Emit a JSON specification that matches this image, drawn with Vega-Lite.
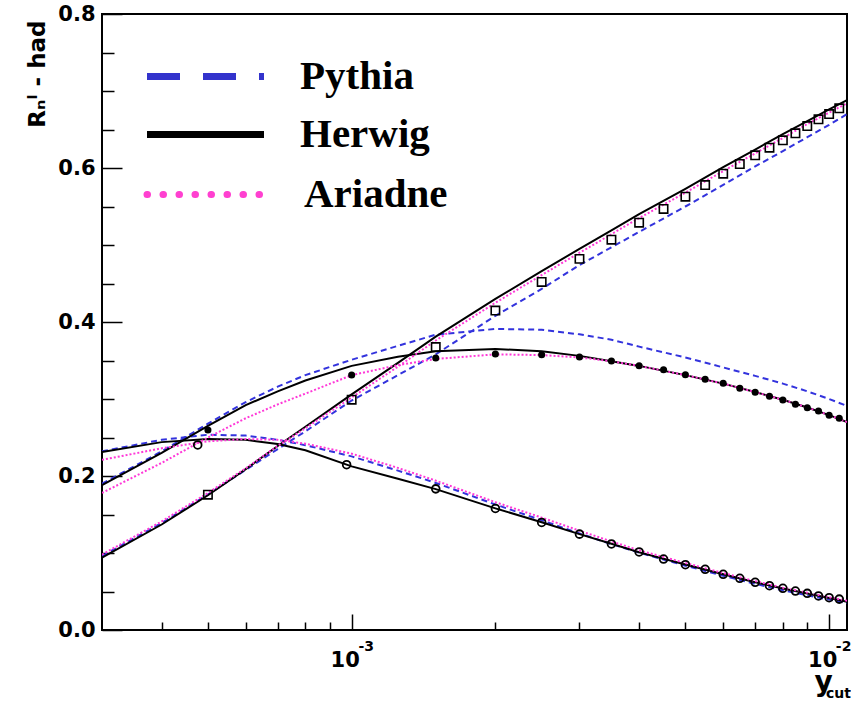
{
  "$schema": "https://vega.github.io/schema/vega-lite/v6.json",
  "width": 745,
  "height": 616,
  "autosize": {"type": "none"},
  "padding": {"left": 102, "top": 14, "right": 4, "bottom": 72},
  "background": "white",
  "title": {"text": "g", "anchor": "start", "frame": "group", "dx": 588, "dy": 11, "offset": 14, "baseline": "alphabetic", "font": "Liberation Serif", "fontWeight": "bold", "fontSize": 56, "color": "black"},
  "config": {
    "view": {"stroke": "black", "strokeWidth": 2},
    "axis": {"domain": false, "grid": false, "tickColor": "black", "tickWidth": 1.5, "labelColor": "black", "titleColor": "black"},
    "legend": {"orient": "none", "padding": 0, "symbolType": "M-1,0H18.5", "symbolSize": 144, "symbolStrokeWidth": 7, "symbolOpacity": 1,
      "labelFont": "Liberation Serif", "labelFontWeight": "bold", "labelFontSize": 41, "labelColor": "black", "labelOffset": 126.5, "labelLimit": 0}
  },
  "datasets": {
    "curves": [
      {"s":"R2","g":"Herwig","x":0.0003,"y":0.094},{"s":"R2","g":"Herwig","x":0.0004,"y":0.137},{"s":"R2","g":"Herwig","x":0.0005,"y":0.175},{"s":"R2","g":"Herwig","x":0.0006,"y":0.209},{"s":"R2","g":"Herwig","x":0.0007,"y":0.239},{"s":"R2","g":"Herwig","x":0.0008,"y":0.264},{"s":"R2","g":"Herwig","x":0.001,"y":0.306},{"s":"R2","g":"Herwig","x":0.00125,"y":0.347},{"s":"R2","g":"Herwig","x":0.0015,"y":0.381},{"s":"R2","g":"Herwig","x":0.002,"y":0.43},{"s":"R2","g":"Herwig","x":0.0025,"y":0.466},{"s":"R2","g":"Herwig","x":0.003,"y":0.495},{"s":"R2","g":"Herwig","x":0.0035,"y":0.519},{"s":"R2","g":"Herwig","x":0.004,"y":0.54},{"s":"R2","g":"Herwig","x":0.005,"y":0.573},{"s":"R2","g":"Herwig","x":0.006,"y":0.601},{"s":"R2","g":"Herwig","x":0.007,"y":0.624},{"s":"R2","g":"Herwig","x":0.008,"y":0.644},{"s":"R2","g":"Herwig","x":0.009,"y":0.661},{"s":"R2","g":"Herwig","x":0.01,"y":0.676},{"s":"R2","g":"Herwig","x":0.0109,"y":0.688},
      {"s":"R2","g":"Ariadne","x":0.0003,"y":0.098},{"s":"R2","g":"Ariadne","x":0.0004,"y":0.141},{"s":"R2","g":"Ariadne","x":0.0005,"y":0.178},{"s":"R2","g":"Ariadne","x":0.0006,"y":0.21},{"s":"R2","g":"Ariadne","x":0.0007,"y":0.239},{"s":"R2","g":"Ariadne","x":0.0008,"y":0.262},{"s":"R2","g":"Ariadne","x":0.001,"y":0.302},{"s":"R2","g":"Ariadne","x":0.00125,"y":0.342},{"s":"R2","g":"Ariadne","x":0.0015,"y":0.376},{"s":"R2","g":"Ariadne","x":0.002,"y":0.425},{"s":"R2","g":"Ariadne","x":0.0025,"y":0.461},{"s":"R2","g":"Ariadne","x":0.003,"y":0.49},{"s":"R2","g":"Ariadne","x":0.0035,"y":0.514},{"s":"R2","g":"Ariadne","x":0.004,"y":0.535},{"s":"R2","g":"Ariadne","x":0.005,"y":0.568},{"s":"R2","g":"Ariadne","x":0.006,"y":0.596},{"s":"R2","g":"Ariadne","x":0.007,"y":0.619},{"s":"R2","g":"Ariadne","x":0.008,"y":0.639},{"s":"R2","g":"Ariadne","x":0.009,"y":0.657},{"s":"R2","g":"Ariadne","x":0.01,"y":0.672},{"s":"R2","g":"Ariadne","x":0.0109,"y":0.684},
      {"s":"R2","g":"Pythia","x":0.0003,"y":0.096},{"s":"R2","g":"Pythia","x":0.0004,"y":0.139},{"s":"R2","g":"Pythia","x":0.0005,"y":0.176},{"s":"R2","g":"Pythia","x":0.0006,"y":0.208},{"s":"R2","g":"Pythia","x":0.0007,"y":0.235},{"s":"R2","g":"Pythia","x":0.0008,"y":0.258},{"s":"R2","g":"Pythia","x":0.001,"y":0.298},{"s":"R2","g":"Pythia","x":0.00125,"y":0.331},{"s":"R2","g":"Pythia","x":0.0015,"y":0.358},{"s":"R2","g":"Pythia","x":0.002,"y":0.408},{"s":"R2","g":"Pythia","x":0.0025,"y":0.443},{"s":"R2","g":"Pythia","x":0.003,"y":0.474},{"s":"R2","g":"Pythia","x":0.0035,"y":0.497},{"s":"R2","g":"Pythia","x":0.004,"y":0.517},{"s":"R2","g":"Pythia","x":0.005,"y":0.55},{"s":"R2","g":"Pythia","x":0.006,"y":0.578},{"s":"R2","g":"Pythia","x":0.007,"y":0.602},{"s":"R2","g":"Pythia","x":0.008,"y":0.622},{"s":"R2","g":"Pythia","x":0.009,"y":0.64},{"s":"R2","g":"Pythia","x":0.01,"y":0.656},{"s":"R2","g":"Pythia","x":0.0109,"y":0.67},
      {"s":"R3","g":"Herwig","x":0.0003,"y":0.188},{"s":"R3","g":"Herwig","x":0.0004,"y":0.23},{"s":"R3","g":"Herwig","x":0.0005,"y":0.265},{"s":"R3","g":"Herwig","x":0.0006,"y":0.292},{"s":"R3","g":"Herwig","x":0.0007,"y":0.31},{"s":"R3","g":"Herwig","x":0.0008,"y":0.324},{"s":"R3","g":"Herwig","x":0.001,"y":0.343},{"s":"R3","g":"Herwig","x":0.00125,"y":0.355},{"s":"R3","g":"Herwig","x":0.0015,"y":0.362},{"s":"R3","g":"Herwig","x":0.002,"y":0.365},{"s":"R3","g":"Herwig","x":0.0025,"y":0.362},{"s":"R3","g":"Herwig","x":0.003,"y":0.356},{"s":"R3","g":"Herwig","x":0.0035,"y":0.349},{"s":"R3","g":"Herwig","x":0.004,"y":0.343},{"s":"R3","g":"Herwig","x":0.005,"y":0.331},{"s":"R3","g":"Herwig","x":0.006,"y":0.32},{"s":"R3","g":"Herwig","x":0.007,"y":0.309},{"s":"R3","g":"Herwig","x":0.008,"y":0.299},{"s":"R3","g":"Herwig","x":0.009,"y":0.289},{"s":"R3","g":"Herwig","x":0.01,"y":0.279},{"s":"R3","g":"Herwig","x":0.0109,"y":0.27},
      {"s":"R3","g":"Ariadne","x":0.0003,"y":0.178},{"s":"R3","g":"Ariadne","x":0.0004,"y":0.217},{"s":"R3","g":"Ariadne","x":0.0005,"y":0.25},{"s":"R3","g":"Ariadne","x":0.0006,"y":0.275},{"s":"R3","g":"Ariadne","x":0.0007,"y":0.293},{"s":"R3","g":"Ariadne","x":0.0008,"y":0.307},{"s":"R3","g":"Ariadne","x":0.001,"y":0.331},{"s":"R3","g":"Ariadne","x":0.00125,"y":0.344},{"s":"R3","g":"Ariadne","x":0.0015,"y":0.352},{"s":"R3","g":"Ariadne","x":0.002,"y":0.358},{"s":"R3","g":"Ariadne","x":0.0025,"y":0.357},{"s":"R3","g":"Ariadne","x":0.003,"y":0.354},{"s":"R3","g":"Ariadne","x":0.0035,"y":0.349},{"s":"R3","g":"Ariadne","x":0.004,"y":0.343},{"s":"R3","g":"Ariadne","x":0.005,"y":0.331},{"s":"R3","g":"Ariadne","x":0.006,"y":0.32},{"s":"R3","g":"Ariadne","x":0.007,"y":0.309},{"s":"R3","g":"Ariadne","x":0.008,"y":0.299},{"s":"R3","g":"Ariadne","x":0.009,"y":0.289},{"s":"R3","g":"Ariadne","x":0.01,"y":0.279},{"s":"R3","g":"Ariadne","x":0.0109,"y":0.27},
      {"s":"R3","g":"Pythia","x":0.0003,"y":0.19},{"s":"R3","g":"Pythia","x":0.0004,"y":0.232},{"s":"R3","g":"Pythia","x":0.0005,"y":0.268},{"s":"R3","g":"Pythia","x":0.0006,"y":0.296},{"s":"R3","g":"Pythia","x":0.0007,"y":0.316},{"s":"R3","g":"Pythia","x":0.0008,"y":0.331},{"s":"R3","g":"Pythia","x":0.001,"y":0.351},{"s":"R3","g":"Pythia","x":0.00125,"y":0.369},{"s":"R3","g":"Pythia","x":0.0015,"y":0.3835},{"s":"R3","g":"Pythia","x":0.002,"y":0.391},{"s":"R3","g":"Pythia","x":0.0025,"y":0.39},{"s":"R3","g":"Pythia","x":0.003,"y":0.384},{"s":"R3","g":"Pythia","x":0.0035,"y":0.377},{"s":"R3","g":"Pythia","x":0.004,"y":0.368},{"s":"R3","g":"Pythia","x":0.005,"y":0.354},{"s":"R3","g":"Pythia","x":0.006,"y":0.341},{"s":"R3","g":"Pythia","x":0.007,"y":0.33},{"s":"R3","g":"Pythia","x":0.008,"y":0.32},{"s":"R3","g":"Pythia","x":0.009,"y":0.31},{"s":"R3","g":"Pythia","x":0.01,"y":0.3},{"s":"R3","g":"Pythia","x":0.0109,"y":0.291},
      {"s":"R4","g":"Herwig","x":0.0003,"y":0.231},{"s":"R4","g":"Herwig","x":0.0004,"y":0.244},{"s":"R4","g":"Herwig","x":0.0005,"y":0.248},{"s":"R4","g":"Herwig","x":0.0006,"y":0.247},{"s":"R4","g":"Herwig","x":0.0007,"y":0.2415},{"s":"R4","g":"Herwig","x":0.0008,"y":0.2335},{"s":"R4","g":"Herwig","x":0.001,"y":0.2125},{"s":"R4","g":"Herwig","x":0.00125,"y":0.1965},{"s":"R4","g":"Herwig","x":0.0015,"y":0.183},{"s":"R4","g":"Herwig","x":0.002,"y":0.158},{"s":"R4","g":"Herwig","x":0.0025,"y":0.14},{"s":"R4","g":"Herwig","x":0.003,"y":0.1245},{"s":"R4","g":"Herwig","x":0.0035,"y":0.112},{"s":"R4","g":"Herwig","x":0.004,"y":0.101},{"s":"R4","g":"Herwig","x":0.005,"y":0.085},{"s":"R4","g":"Herwig","x":0.006,"y":0.0725},{"s":"R4","g":"Herwig","x":0.007,"y":0.062},{"s":"R4","g":"Herwig","x":0.008,"y":0.054},{"s":"R4","g":"Herwig","x":0.009,"y":0.0475},{"s":"R4","g":"Herwig","x":0.01,"y":0.0415},{"s":"R4","g":"Herwig","x":0.0109,"y":0.0365},
      {"s":"R4","g":"Pythia","x":0.0003,"y":0.232},{"s":"R4","g":"Pythia","x":0.0004,"y":0.247},{"s":"R4","g":"Pythia","x":0.0005,"y":0.2536},{"s":"R4","g":"Pythia","x":0.0006,"y":0.2525},{"s":"R4","g":"Pythia","x":0.0007,"y":0.247},{"s":"R4","g":"Pythia","x":0.0008,"y":0.24},{"s":"R4","g":"Pythia","x":0.001,"y":0.2255},{"s":"R4","g":"Pythia","x":0.00125,"y":0.207},{"s":"R4","g":"Pythia","x":0.0015,"y":0.191},{"s":"R4","g":"Pythia","x":0.002,"y":0.163},{"s":"R4","g":"Pythia","x":0.0025,"y":0.1425},{"s":"R4","g":"Pythia","x":0.003,"y":0.1255},{"s":"R4","g":"Pythia","x":0.0035,"y":0.1115},{"s":"R4","g":"Pythia","x":0.004,"y":0.1005},{"s":"R4","g":"Pythia","x":0.005,"y":0.0835},{"s":"R4","g":"Pythia","x":0.006,"y":0.0705},{"s":"R4","g":"Pythia","x":0.007,"y":0.06},{"s":"R4","g":"Pythia","x":0.008,"y":0.0515},{"s":"R4","g":"Pythia","x":0.009,"y":0.045},{"s":"R4","g":"Pythia","x":0.01,"y":0.0395},{"s":"R4","g":"Pythia","x":0.0109,"y":0.035},
      {"s":"R4","g":"Ariadne","x":0.0003,"y":0.221},{"s":"R4","g":"Ariadne","x":0.0004,"y":0.236},{"s":"R4","g":"Ariadne","x":0.0005,"y":0.245},{"s":"R4","g":"Ariadne","x":0.0006,"y":0.248},{"s":"R4","g":"Ariadne","x":0.0007,"y":0.247},{"s":"R4","g":"Ariadne","x":0.0008,"y":0.242},{"s":"R4","g":"Ariadne","x":0.001,"y":0.229},{"s":"R4","g":"Ariadne","x":0.00125,"y":0.2105},{"s":"R4","g":"Ariadne","x":0.0015,"y":0.194},{"s":"R4","g":"Ariadne","x":0.002,"y":0.166},{"s":"R4","g":"Ariadne","x":0.0025,"y":0.146},{"s":"R4","g":"Ariadne","x":0.003,"y":0.129},{"s":"R4","g":"Ariadne","x":0.0035,"y":0.115},{"s":"R4","g":"Ariadne","x":0.004,"y":0.1035},{"s":"R4","g":"Ariadne","x":0.005,"y":0.087},{"s":"R4","g":"Ariadne","x":0.006,"y":0.074},{"s":"R4","g":"Ariadne","x":0.007,"y":0.0635},{"s":"R4","g":"Ariadne","x":0.008,"y":0.055},{"s":"R4","g":"Ariadne","x":0.009,"y":0.0485},{"s":"R4","g":"Ariadne","x":0.01,"y":0.0425},{"s":"R4","g":"Ariadne","x":0.0109,"y":0.038}
    ],
    "points": [
      {"s":"R2","x":0.0005,"y":0.1757},{"s":"R2","x":0.001,"y":0.2991},{"s":"R2","x":0.0015,"y":0.3675},{"s":"R2","x":0.002,"y":0.4148},{"s":"R2","x":0.0025,"y":0.452},{"s":"R2","x":0.003,"y":0.482},{"s":"R2","x":0.0035,"y":0.5069},{"s":"R2","x":0.004,"y":0.529},{"s":"R2","x":0.0045,"y":0.5468},{"s":"R2","x":0.005,"y":0.5627},{"s":"R2","x":0.0055,"y":0.5779},{"s":"R2","x":0.006,"y":0.5926},{"s":"R2","x":0.0065,"y":0.6052},{"s":"R2","x":0.007,"y":0.6165},{"s":"R2","x":0.0075,"y":0.6264},{"s":"R2","x":0.008,"y":0.636},{"s":"R2","x":0.0085,"y":0.645},{"s":"R2","x":0.009,"y":0.6545},{"s":"R2","x":0.0095,"y":0.6632},{"s":"R2","x":0.01,"y":0.6701},{"s":"R2","x":0.0105,"y":0.6775},
      {"s":"R3","x":0.0005,"y":0.2597},{"s":"R3","x":0.001,"y":0.3312},{"s":"R3","x":0.0015,"y":0.3532},{"s":"R3","x":0.002,"y":0.3584},{"s":"R3","x":0.0025,"y":0.3575},{"s":"R3","x":0.003,"y":0.3545},{"s":"R3","x":0.0035,"y":0.3494},{"s":"R3","x":0.004,"y":0.3432},{"s":"R3","x":0.0045,"y":0.3379},{"s":"R3","x":0.005,"y":0.3316},{"s":"R3","x":0.0055,"y":0.3256},{"s":"R3","x":0.006,"y":0.3204},{"s":"R3","x":0.0065,"y":0.3139},{"s":"R3","x":0.007,"y":0.3087},{"s":"R3","x":0.0075,"y":0.3035},{"s":"R3","x":0.008,"y":0.2987},{"s":"R3","x":0.0085,"y":0.2931},{"s":"R3","x":0.009,"y":0.2887},{"s":"R3","x":0.0095,"y":0.2844},{"s":"R3","x":0.01,"y":0.2788},{"s":"R3","x":0.0105,"y":0.2749},
      {"s":"R4","x":0.000476,"y":0.2403},{"s":"R4","x":0.000976,"y":0.2147},{"s":"R4","x":0.0015,"y":0.1833},{"s":"R4","x":0.002,"y":0.1579},{"s":"R4","x":0.0025,"y":0.1397},{"s":"R4","x":0.003,"y":0.1245},{"s":"R4","x":0.0035,"y":0.1117},{"s":"R4","x":0.004,"y":0.1013},{"s":"R4","x":0.0045,"y":0.0922},{"s":"R4","x":0.005,"y":0.0848},{"s":"R4","x":0.0055,"y":0.0788},{"s":"R4","x":0.006,"y":0.0723},{"s":"R4","x":0.0065,"y":0.0671},{"s":"R4","x":0.007,"y":0.0619},{"s":"R4","x":0.0075,"y":0.0575},{"s":"R4","x":0.008,"y":0.0541},{"s":"R4","x":0.0085,"y":0.0506},{"s":"R4","x":0.009,"y":0.0476},{"s":"R4","x":0.0095,"y":0.0442},{"s":"R4","x":0.01,"y":0.0419},{"s":"R4","x":0.0105,"y":0.0401}
    ]
  },
  "layer": [
    {
      "data": {"name": "points"},
      "mark": {"type": "point", "opacity": 0},
      "encoding": {
        "x": {"field": "x", "type": "quantitative", "scale": {"type": "log", "domain": [0.0003, 0.0109], "nice": false},
          "axis": {"orient": "bottom", "values": [0.0004,0.0005,0.0006,0.0007,0.0008,0.0009,0.002,0.003,0.004,0.005,0.006,0.007,0.008,0.009], "labels": false, "tickSize": -8,
            "title": "cut", "titleFont": "DejaVu Sans", "titleFontWeight": "bold", "titleFontSize": 14, "titleX": 736, "titleY": 67, "titleAlign": "center", "titleBaseline": "alphabetic", "titleAnchor": null}},
        "y": {"field": "y", "type": "quantitative", "scale": {"domain": [0, 0.8], "nice": false, "zero": false},
          "axis": {"orient": "left", "values": [0.05,0.1,0.15,0.25,0.3,0.35,0.45,0.5,0.55,0.65,0.7,0.75], "labels": false, "tickSize": -12, "title": null}}
      }
    },
    {
      "data": {"name": "points"},
      "mark": {"type": "point", "opacity": 0},
      "encoding": {
        "x": {"field": "x", "type": "quantitative",
          "axis": {"orient": "bottom", "values": [0.001, 0.01], "labelExpr": "datum.value < 0.005 ? '-3' : '-2'", "ticks": false, "labelPadding": 9, "labelOffset": 14, "labelFlush": false, "labelOverlap": false,
            "labelFont": "DejaVu Sans", "labelFontWeight": "bold", "labelFontSize": 14, "title": null}},
        "y": {"field": "y", "type": "quantitative", "axis": null}
      }
    },
    {
      "data": {"name": "curves"},
      "transform": [{"filter": "datum.g === 'Pythia'"}],
      "mark": {"type": "line", "stroke": "#3333dd", "strokeDash": [6, 4], "strokeWidth": 2, "clip": true},
      "encoding": {
        "x": {"field": "x", "type": "quantitative", "axis": null},
        "y": {"field": "y", "type": "quantitative", "axis": null},
        "detail": {"field": "s"}
      }
    },
    {
      "data": {"name": "curves"},
      "transform": [{"filter": "datum.g === 'Herwig'"}],
      "mark": {"type": "line", "stroke": "#000000", "strokeWidth": 2, "clip": true},
      "encoding": {
        "x": {"field": "x", "type": "quantitative",
          "axis": {"orient": "bottom", "values": [0.001, 0.01], "labelExpr": "'10'", "tickSize": -16, "labelPadding": 35, "labelOffset": -7, "labelFlush": false, "labelOverlap": false,
            "labelFont": "DejaVu Sans", "labelFontWeight": "bold", "labelFontSize": 21,
            "title": "y", "titleFont": "DejaVu Sans", "titleFontWeight": "bold", "titleFontSize": 28, "titleX": 721, "titleY": 60, "titleAlign": "center", "titleBaseline": "alphabetic", "titleAnchor": null}},
        "y": {"field": "y", "type": "quantitative",
          "axis": {"orient": "left", "values": [0, 0.2, 0.4, 0.6, 0.8], "format": ".1f", "tickSize": -20, "labelPadding": 27, "labelOverlap": false, "labelFlush": false,
            "labelFont": "DejaVu Sans", "labelFontWeight": "bold", "labelFontSize": 21,
            "title": "Rₙˡ - had", "titleFont": "DejaVu Sans", "titleFontWeight": "bold", "titleFontSize": 23, "titleAngle": 270, "titleX": -58, "titleY": 6, "titleAlign": "right", "titleBaseline": "alphabetic", "titleAnchor": null}},
        "detail": {"field": "s"}
      }
    },
    {
      "data": {"name": "curves"},
      "transform": [{"filter": "datum.g === 'Ariadne'"}],
      "mark": {"type": "line", "stroke": "#ff38d8", "strokeDash": [2, 2], "strokeWidth": 2, "clip": true},
      "encoding": {
        "x": {"field": "x", "type": "quantitative", "axis": null},
        "y": {"field": "y", "type": "quantitative", "axis": null},
        "detail": {"field": "s"}
      }
    },
    {
      "data": {"name": "points"},
      "transform": [{"filter": "datum.s === 'R2'"}],
      "mark": {"type": "point", "shape": "square", "filled": false, "stroke": "black", "strokeWidth": 1.6, "size": 70, "opacity": 1},
      "encoding": {
        "x": {"field": "x", "type": "quantitative", "axis": null},
        "y": {"field": "y", "type": "quantitative", "axis": null}
      }
    },
    {
      "data": {"name": "points"},
      "transform": [{"filter": "datum.s === 'R3'"}],
      "mark": {"type": "point", "shape": "circle", "filled": true, "fill": "black", "size": 50, "opacity": 1},
      "encoding": {
        "x": {"field": "x", "type": "quantitative", "axis": null},
        "y": {"field": "y", "type": "quantitative", "axis": null}
      }
    },
    {
      "data": {"name": "points"},
      "transform": [{"filter": "datum.s === 'R4'"}],
      "mark": {"type": "point", "shape": "circle", "filled": false, "stroke": "black", "strokeWidth": 1.8, "size": 60, "opacity": 1},
      "encoding": {
        "x": {"field": "x", "type": "quantitative", "axis": null},
        "y": {"field": "y", "type": "quantitative", "axis": null}
      }
    },
    {
      "data": {"name": "curves"},
      "transform": [{"filter": "false"}],
      "mark": {"type": "line", "strokeWidth": 7, "strokeDash": [33, 23]},
      "encoding": {
        "x": {"field": "x", "type": "quantitative", "axis": null},
        "y": {"field": "y", "type": "quantitative", "axis": null},
        "color": {"field": "g", "type": "nominal", "scale": {"domain": ["Pythia"], "range": ["#3333cc"]},
          "legend": {"title": null, "legendX": 30.5, "legendY": 42, "symbolDash": [33, 23]}}
      }
    },
    {
      "data": {"name": "curves"},
      "transform": [{"filter": "false"}],
      "mark": {"type": "line", "strokeWidth": 7},
      "encoding": {
        "x": {"field": "x", "type": "quantitative", "axis": null},
        "y": {"field": "y", "type": "quantitative", "axis": null},
        "color": {"field": "g", "type": "nominal", "scale": {"domain": ["Herwig"], "range": ["#000000"]},
          "legend": {"title": null, "legendX": 30.5, "legendY": 100}}
      }
    },
    {
      "data": {"name": "curves"},
      "transform": [{"filter": "false"}],
      "mark": {"type": "line", "strokeWidth": 7, "strokeDash": [0.5, 15.5], "strokeCap": "round"},
      "encoding": {
        "x": {"field": "x", "type": "quantitative", "axis": null},
        "y": {"field": "y", "type": "quantitative", "axis": null},
        "color": {"field": "g", "type": "nominal", "scale": {"domain": ["Ariadne"], "range": ["#ff40d0"]},
          "legend": {"title": null, "legendX": 30.5, "legendY": 160, "labelOffset": 130.5, "symbolDash": [0.5, 15.5],
            "encode": {"symbols": {"update": {"strokeCap": {"value": "round"}}}}}}
      }
    }
  ],
  "resolve": {"axis": {"x": "independent", "y": "independent"}, "scale": {"color": "independent"}, "legend": {"color": "independent"}}
}
